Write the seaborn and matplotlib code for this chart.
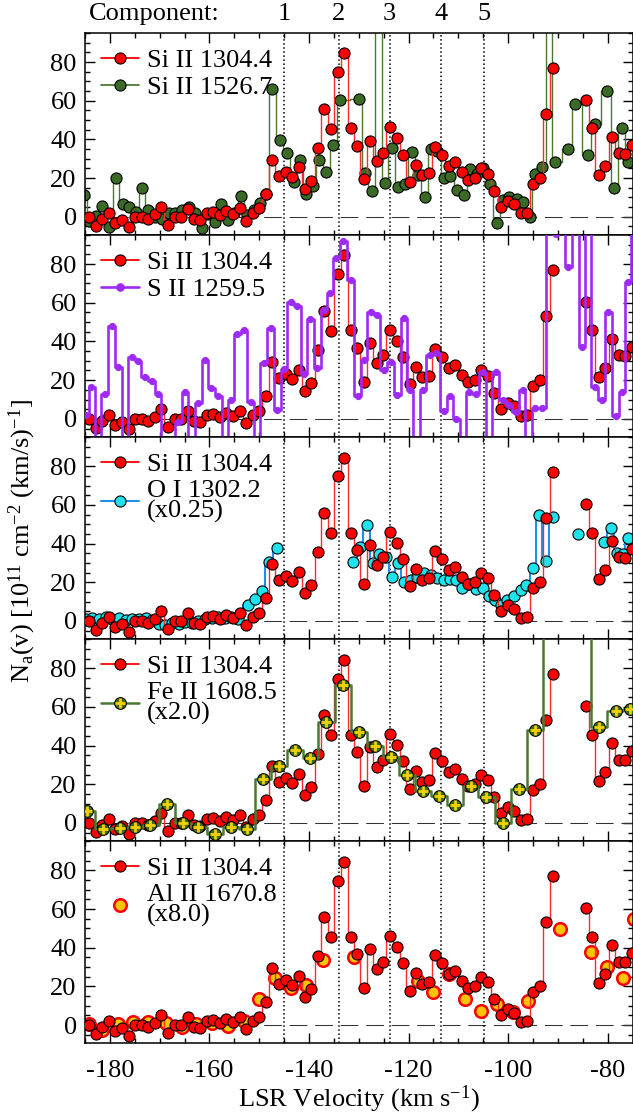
import numpy as np
import pandas as pd
import matplotlib
matplotlib.use("Agg")
import matplotlib.pyplot as plt
import seaborn as sns
from matplotlib.lines import Line2D
from matplotlib.ticker import MultipleLocator
import matplotlib.transforms as mtransforms
from matplotlib.legend_handler import HandlerTuple

# ---------------- data ----------------
si1304_v = [-184.1, -182.8, -181.5, -180.2, -178.9, -177.5, -176.2, -174.9, -173.6, -172.3,
            -171.0, -169.7, -168.4, -167.0, -165.7, -164.4, -163.1, -161.8, -160.5, -159.2,
            -157.9, -156.6, -155.2, -153.9, -152.6, -151.3, -150.0, -148.7, -147.4, -146.1,
            -144.7, -143.4, -142.1, -140.8, -139.5, -138.2, -136.9, -135.6, -134.2, -132.9,
            -131.6, -130.3, -129.0, -127.7, -126.4, -125.1, -123.8, -122.4, -121.1, -119.8,
            -118.5, -117.2, -115.9, -114.6, -113.3, -111.9, -110.6, -109.3, -108.0, -106.7,
            -105.4, -104.1, -102.8, -101.4, -100.1, -98.8, -97.5, -96.2, -94.9, -93.6,
            -92.3, -91.0, -89.6, -88.3, -87.0, -85.7, -84.4, -83.1, -81.8, -80.5,
            -79.1, -77.8, -76.5, -75.2]
si1304_val = [0.0, -4.8, -1.0, 2.0, -3.0, -1.7, -5.5, 0.0, 0.0, -1.2,
              1.2, 5.2, -4.3, 0.0, 0.0, 4.0, -1.0, -1.7, 2.0, 2.6,
              1.0, 3.0, 1.4, 4.3, -2.2, 2.0, 4.3, 11.7, 29.3, 21.2,
              23.3, 20.7, 25.5, 14.3, 18.6, 35.7, 55.7, 45.3, 74.7, 84.5,
              45.7, 36.7, 19.3, 39.3, 28.8, 32.8, 46.2, 40.5, 31.9, 17.8,
              26.7, 21.4, 22.4, 36.2, 31.9, 26.4, 28.1, 22.9, 19.0, 20.0,
              25.0, 22.0, 13.4, 5.2, 8.1, 6.4, 1.7, 2.0, 17.2, 20.3,
              53.4, 77.0, np.nan, np.nan, np.nan, np.nan, 60.3, 45.7, 21.6, 26.2,
              41.4, 32.8, 32.4, 37.0]

si1526_v = [-185.2, -184.1, -182.8, -181.5, -180.1, -178.8, -177.4, -176.1, -174.7, -173.6,
            -172.3, -170.9, -169.6, -168.2, -166.9, -165.6, -164.2, -162.9, -161.5, -160.2,
            -158.9, -157.6, -156.2, -155.0, -153.7, -152.4, -151.1, -149.9, -148.7, -147.4,
            -145.8, -144.5, -143.0, -141.8, -140.5, -139.2, -137.9, -136.6, -135.1, -133.8,
            -129.9, -128.8, -127.3, -126.0, -124.8, -123.4, -122.1, -120.7, -119.4, -118.1,
            -116.7, -115.5, -114.2, -112.9, -111.7, -110.2, -108.9, -107.6, -106.3, -105.0,
            -103.7, -102.3, -101.0, -99.8, -98.3, -97.0, -95.6, -94.6, -93.1, -91.8,
            -90.5, -87.9, -86.5, -83.9, -82.6, -80.1, -78.7, -77.2, -75.9]
si1526_val = [11.2, -2.0, 0.5, 5.5, -5.5, 20.3, 6.5, 4.8, 2.6, 14.7,
              3.4, 0.0, -1.0, 2.0, 2.0, 3.5, 5.2, 2.0, -6.0, 1.5,
              -2.6, 6.5, -1.7, 2.0, 10.9, 1.0, 3.5, 6.9, 12.0, 66.0,
              39.7, 32.8, 18.1, 29.3, 11.7, 16.0, 29.3, 23.3, 37.0, 60.3,
              60.9, 22.4, 13.4, 130.0, 17.6, 35.7, 15.5, 16.7, 33.6, 21.6,
              10.3, 35.3, 34.0, 19.8, 21.0, 13.8, 11.2, 24.7, 22.0, 25.0,
              16.9, -3.4, 8.5, 10.0, 9.0, 7.8, 0.0, 22.0, 25.9, 130.0,
              28.4, 35.3, 58.3, 32.2, 47.8, 65.2, 15.0, 45.7, 28.4]

s1259_v = [-184.8, -183.7, -182.4, -181.0, -179.6, -178.3, -177.0, -175.6, -174.3, -173.0,
           -171.6, -170.3, -169.0, -167.6, -166.3, -164.9, -163.6, -162.2, -160.9, -159.6,
           -158.2, -156.9, -155.7, -154.4, -153.1, -151.7, -150.4, -149.1, -147.7, -146.4,
           -145.0, -143.7, -142.4, -141.0, -139.7, -138.3, -137.0, -135.7, -134.5, -133.1,
           -131.6, -130.2, -129.0, -127.6, -126.3, -125.0, -123.6, -122.3, -120.9, -119.7,
           -118.4, -117.1, -115.7, -114.4, -112.9, -111.7, -110.4, -109.1, -107.8, -106.5,
           -105.1, -103.8, -102.5, -101.1, -99.8, -98.5, -97.1, -95.9, -94.6, -93.1,
           -91.8, -90.4, -89.1, -87.9, -86.5, -85.1, -83.9, -82.6, -81.1, -79.9,
           -78.4, -77.1, -75.9, -74.6]
s1259_val = [2.0, 16.4, -20.0, 12.8, 47.8, 26.6, -20.0, 32.2, 30.0, 21.6,
             19.8, 12.8, -20.0, -20.0, -1.7, 13.8, -20.0, 8.1, 30.2, 16.0,
             11.7, -20.0, 9.8, 44.0, 46.2, 8.6, -20.0, 28.8, 46.9, 4.7,
             25.7, 60.2, 58.4, 23.3, 51.4, 26.2, 56.4, 65.0, 83.1, 92.2,
             71.6, 11.6, 30.5, 55.5, 53.8, 25.3, 29.3, 12.1, 52.1, 15.0,
             -20.0, 15.0, 32.8, 34.0, 3.8, 11.6, -0.2, -20.0, 14.1, 12.8,
             24.1, -20.0, 24.1, 9.5, 6.9, 3.3, 15.0, -20.0, 5.5, 5.5,
             130.0, 95.5, 130.0, 78.4, 130.0, 37.0, 130.0, 16.4, 9.5, 55.2,
             1.7, 13.8, 71.0, 130.0]

o1302_v = [-184.8, -183.5, -182.1, -180.8, -179.5, -178.2, -176.8, -175.5, -174.2, -172.8,
           -171.5, -170.2, -168.9, -167.5, -166.2, -164.9, -163.5, -162.2, -160.9, -159.5,
           -158.2, -156.9, -155.6, -154.2, -152.2, -150.9, -149.5, -148.0, -146.5, -140.0,
           -131.1, -129.8, -128.4, -127.2, -125.9, -124.6, -123.4, -122.1, -120.9, -119.5,
           -118.2, -116.9, -115.5, -114.2, -112.8, -111.7, -110.5, -109.2, -107.8, -106.5,
           -105.1, -103.8, -102.7, -101.5, -100.2, -98.9, -97.5, -96.3, -95.0, -93.8,
           -92.4, -91.0, -89.0, -85.9, -83.5, -80.8, -79.4, -78.2, -77.0, -75.9]
o1302_val = [1.2, 1.5, 0.8, 1.8, 1.0, 1.4, 0.5, 1.2, 1.0, 1.5,
             0.3, -1.8, -2.2, -1.0, -1.5, -0.8, -1.2, 0.2, 0.8, 1.6,
             2.0, 1.4, 1.9, 1.2, 8.3, 11.2, 15.5, 30.3, 37.6, np.nan,
             30.7, 38.4, 49.7, 29.8, 34.5, 33.3, 22.9, 29.8, 20.3, 21.2,
             22.9, 24.7, 23.8, 22.1, 20.9, 21.5, 20.9, 16.9, 19.0, 16.6,
             17.2, 13.1, 11.0, 8.3, 11.0, 13.1, 16.0, 18.6, 27.6, 54.8,
             31.2, 53.6, np.nan, 44.8, np.nan, 40.7, 48.3, 35.0, 34.5, 42.8]

fe1608_v = [-184.5, -181.4, -178.0, -174.9, -171.9, -168.5, -165.3, -162.2, -158.8, -155.7,
            -152.5, -149.3, -146.0, -142.8, -139.8, -136.6, -133.1, -129.9, -126.8, -123.6,
            -120.3, -117.1, -113.9, -110.7, -107.5, -104.4, -101.0, -97.8, -94.6, -91.4,
            -88.2, -84.9, -81.7, -78.4, -75.6]
fe1608_val = [6.0, -3.1, -2.6, -2.2, -0.9, 9.8, 0.0, -2.2, -5.5, -2.1,
              -3.1, 22.8, 29.3, 37.9, 33.6, 52.1, 71.6, 46.9, 39.7, 34.1,
              25.0, 16.4, 14.1, 9.1, 19.0, 13.4, 0.0, 17.6, 48.3, 130.0,
              130.0, 130.0, 49.7, 57.8, 59.0]

al1670_v = [-184.1, -181.5, -178.3, -175.3, -172.3, -168.7, -165.6, -162.6, -159.4, -156.2,
            -153.1, -150.0, -146.8, -143.7, -140.5, -137.1, -131.0, -118.1, -115.1, -111.8,
            -108.7, -105.5, -102.3, -99.1, -96.0, -89.6, -83.3, -80.1, -76.9, -74.6]
al1670_val = [0.5, -2.4, 0.5, 1.4, 1.7, 0.9, -0.9, 0.5, 0.9, -0.3,
              2.2, 13.4, 24.1, 19.0, 20.7, 33.8, 35.0, 22.9, 17.2, 26.4,
              13.4, 7.4, 10.9, 6.9, 12.6, 49.7, 37.9, 29.8, 24.1, 54.8]

component_v = [-145.0, -134.0, -123.8, -113.5, -104.8]
component_labels = ["1", "2", "3", "4", "5"]
legend_labels = ["Si II 1304.4", "Si II 1526.7", "S II 1259.5",
                 "O I 1302.2\n(x0.25)", "Fe II 1608.5\n(x2.0)", "Al II 1670.8\n(x8.0)"]
xticks = [-180, -160, -140, -120, -100, -80]
yticks = [0, 20, 40, 60, 80]

# ---------------- style ----------------
sns.set_theme(style="ticks")
plt.rcParams["font.family"] = ["Liberation Serif", "DejaVu Serif"]
plt.rcParams["mathtext.fontset"] = "custom"
plt.rcParams["mathtext.rm"] = "Liberation Serif"
plt.rcParams["mathtext.it"] = "Liberation Serif:italic"
plt.rcParams["mathtext.bf"] = "Liberation Serif:bold"
plt.rcParams["axes.unicode_minus"] = False
plt.rcParams["axes.edgecolor"] = "black"
plt.rcParams["axes.linewidth"] = 1.1
plt.rcParams["xtick.color"] = "black"
plt.rcParams["ytick.color"] = "black"
plt.rcParams["text.color"] = "black"

FS = 19
RED = "#ff0000"
RED_LINE = "#ff2a2a"
GREEN = "#3a6a26"
GREEN_LINE = "#4a7a32"
PURPLE = "#9e2af5"
CYAN = "#1fe3ec"
BLUE = "#2090f0"
FE_FACE = "#3d6e1f"
YELLOW = "#f5d000"
GOLD = "#ffc400"


def make_df(v, y):
    df = pd.DataFrame({"v": v, "val": y})
    df["seg"] = df["val"].isna().cumsum()
    return df.dropna()


def step_line(ax, v, y, color, lw, z):
    df = make_df(v, y)
    sns.lineplot(data=df, x="v", y="val", units="seg", estimator=None, sort=False,
                 drawstyle="steps-mid", color=color, lw=lw, ax=ax, legend=False,
                 zorder=z)


def dots(ax, v, y, face, edge, s, lw, z, marker="o"):
    df = make_df(v, y)
    sns.scatterplot(data=df, x="v", y="val", s=s, color=face, edgecolor=edge,
                    linewidth=lw, ax=ax, legend=False, zorder=z, marker=marker)


fig, axes = plt.subplots(5, 1, figsize=(6.33, 11.15), dpi=100, sharex=True)
fig.subplots_adjust(left=85 / 633, right=632.5 / 633, top=1 - 32.7 / 1115,
                    bottom=1 - 1043 / 1115, hspace=0)

SI_S = 64


def si_series(ax, z):
    step_line(ax, si1304_v, si1304_val, RED_LINE, 1.0, z)
    dots(ax, si1304_v, si1304_val, RED, "black", SI_S, 0.8, z + 0.5)


si_handle = Line2D([0], [0], color=RED, lw=1.3, marker="o", ms=8,
                   mfc=RED, mec="black", mew=0.8)

# Panel 1
ax = axes[0]
step_line(ax, si1526_v, si1526_val, GREEN_LINE, 1.0, 2)
dots(ax, si1526_v, si1526_val, GREEN, "black", SI_S, 0.8, 2.5)
si_series(ax, 3)
h2 = Line2D([0], [0], color=GREEN_LINE, lw=1.3, marker="o", ms=8,
            mfc=GREEN, mec="black", mew=0.8)
handles = [[si_handle, h2]]

# Panel 2
ax = axes[1]
si_series(ax, 2)
step_line(ax, s1259_v, s1259_val, PURPLE, 1.9, 3)
dots(ax, s1259_v, s1259_val, PURPLE, PURPLE, 27, 0, 3.5)
handles.append([si_handle, Line2D([0], [0], color=PURPLE, lw=1.9, marker="o",
                                  ms=5.2, mfc=PURPLE, mec=PURPLE)])

# Panel 3
ax = axes[2]
step_line(ax, o1302_v, o1302_val, BLUE, 1.5, 2)
dots(ax, o1302_v, o1302_val, CYAN, "black", SI_S, 0.8, 2.5)
si_series(ax, 3)
handles.append([si_handle, Line2D([0], [0], color=BLUE, lw=1.5, marker="o",
                                  ms=8, mfc=CYAN, mec="black", mew=0.8)])

# Panel 4
ax = axes[3]
si_series(ax, 2)
step_line(ax, fe1608_v, fe1608_val, GREEN_LINE, 1.8, 3)
dots(ax, fe1608_v, fe1608_val, FE_FACE, "black", 70, 0.8, 3.5)
dots(ax, fe1608_v, fe1608_val, YELLOW, YELLOW, 48, 2.0, 3.6, marker="+")
fe_h = (Line2D([0], [0], color=GREEN_LINE, lw=1.8, marker="o", ms=8.4,
               mfc=FE_FACE, mec="black", mew=0.8),
        Line2D([0], [0], ls="none", marker="+", ms=6.8, mec=YELLOW, mew=2.0))
handles.append([si_handle, fe_h])

# Panel 5
ax = axes[4]
dots(ax, al1670_v, al1670_val, GOLD, RED, 82, 1.8, 2)
si_series(ax, 3)
handles.append([si_handle, Line2D([0], [0], ls="none", marker="o", ms=9,
                                  mfc=GOLD, mec=RED, mew=1.8)])

labels = [[legend_labels[0], legend_labels[1]],
          [legend_labels[0], legend_labels[2]],
          [legend_labels[0], legend_labels[3]],
          [legend_labels[0], legend_labels[4]],
          [legend_labels[0], legend_labels[5]]]

for i, ax in enumerate(axes):
    ax.set_xlim(-185, -75)
    ax.set_ylim(-9.3, 95.2)
    ax.axhline(0, color="#333333", lw=0.75, ls=(0, (17, 7.5)), zorder=1)
    for cv in component_v:
        ax.axvline(cv, color="black", lw=1.1, ls=":", zorder=1)
    ax.xaxis.set_major_locator(MultipleLocator(20))
    ax.xaxis.set_minor_locator(MultipleLocator(5))
    ax.yaxis.set_major_locator(MultipleLocator(20))
    ax.yaxis.set_minor_locator(MultipleLocator(5))
    ax.tick_params(which="both", direction="in", top=True, right=True,
                   width=1.0, labelsize=FS)
    ax.tick_params(which="major", length=7)
    ax.tick_params(which="minor", length=3.5)
    ax.tick_params(axis="y", pad=6)
    ax.tick_params(axis="x", pad=12)
    ax.set_xlabel("")
    ax.set_ylabel("")
    ax.set_yticks(yticks)
    ax.set_yticklabels([str(t) for t in yticks])
    for sp in ax.spines.values():
        sp.set_linewidth(1.1)
    leg = ax.legend(handles[i], labels[i], loc="upper left", frameon=False,
                    fontsize=FS, handlelength=1.45, handletextpad=0.3,
                    borderaxespad=0.25, borderpad=0.35, labelspacing=0.15,
                    handler_map={tuple: HandlerTuple(ndivide=1)})
    for t in leg.get_texts():
        t.set_linespacing(0.85)

axes[-1].set_xticks(xticks)
axes[-1].set_xticklabels([str(t) for t in xticks])

# top component labels
top = axes[0]
trans = mtransforms.blended_transform_factory(top.transData, top.transAxes)
top.text(-184.2, 1.092, "Component:", transform=trans, ha="left", va="center",
         fontsize=FS)
for cv, lab in zip(component_v, component_labels):
    top.text(cv, 1.092, lab, transform=trans, ha="center", va="center", fontsize=FS)

fig.text(359 / 633, 1 - 1099 / 1115, r"LSR Velocity (km s$^{\mathregular{-1}}$)",
         ha="center", va="center", fontsize=FS)
fig.text(0.035, 0.515,
         r"N$_{\mathregular{a}}$(v) [10$^{\mathregular{11}}$ cm$^{\mathregular{-2}}$ (km/s)$^{\mathregular{-1}}$]",
         rotation=90, ha="center", va="center", fontsize=FS)

fig.savefig("out.png", dpi=100)
